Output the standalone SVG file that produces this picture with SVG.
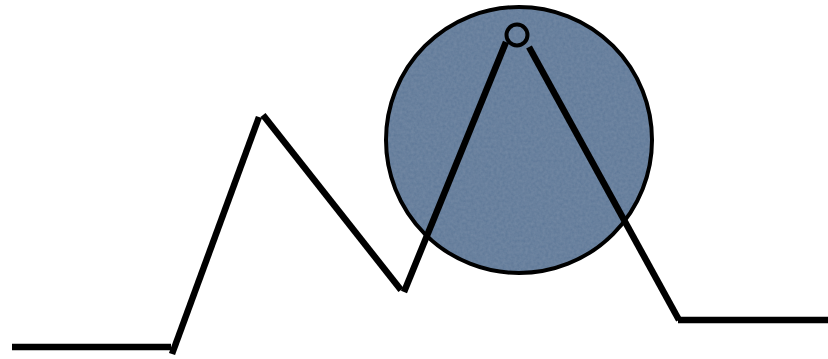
<svg xmlns="http://www.w3.org/2000/svg" width="828" height="359" viewBox="0 0 828 359">
<style>
.seg{stroke:#000;stroke-width:6.5;fill:none;stroke-linecap:butt}
</style>
<defs>
<filter id="tex" x="0" y="0" width="100%" height="100%">
<feTurbulence type="fractalNoise" baseFrequency="0.35" numOctaves="2" seed="3" result="n"/>
<feColorMatrix in="n" type="matrix" values="0 0 0 0 0.33  0 0 0 0 0.42  0 0 0 0 0.53  0 0 0 0.3 0" result="c"/>
<feComposite in="c" in2="SourceGraphic" operator="in" result="t"/>
<feMerge><feMergeNode in="SourceGraphic"/><feMergeNode in="t"/></feMerge>
</filter>
</defs>
<rect width="828" height="359" fill="#fff"/>
<g id="circle">
<circle cx="519" cy="140" r="133" fill="#5d7797" filter="url(#tex)"/>
<circle cx="519" cy="140" r="133" fill="none" stroke="#000" stroke-width="4"/>
</g>
<g id="path">
<line class="seg" x1="12" y1="347" x2="171" y2="347"/>
<line class="seg" x1="172" y1="354" x2="259" y2="117"/>
<line class="seg" x1="263" y1="115" x2="401" y2="290"/>
<line class="seg" x1="404" y1="292" x2="506" y2="42"/>
<line class="seg" x1="529" y1="47" x2="679" y2="320"/>
<line class="seg" x1="678" y1="320" x2="828" y2="320"/>
</g>
<g id="pivot">
<circle cx="517" cy="35" r="10.5" fill="none" stroke="#000" stroke-width="4"/>
</g>
</svg>
